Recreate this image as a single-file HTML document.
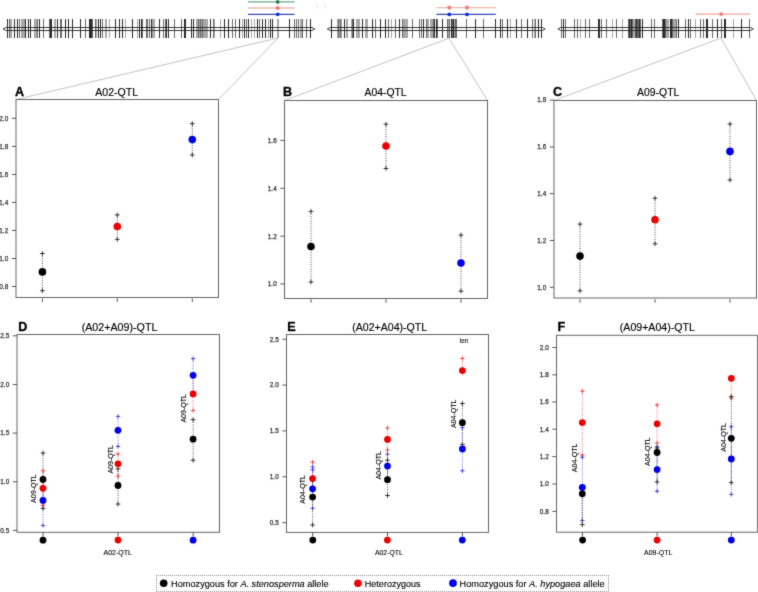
<!DOCTYPE html>
<html><head><meta charset="utf-8"><title>QTL figure</title>
<style>html,body{margin:0;padding:0;background:#fff;}svg{display:block;}body{width:758px;height:592px;overflow:hidden;font-family:"Liberation Sans",sans-serif;}</style>
</head><body>
<svg width="758" height="592" viewBox="0 0 758 592" font-family="Liberation Sans, sans-serif">
<defs><filter id="soft" x="0" y="0" width="100%" height="100%" color-interpolation-filters="sRGB"><feConvolveMatrix order="3" kernelMatrix="0.02 0.08 0.02 0.08 0.6 0.08 0.02 0.08 0.02" edgeMode="none"/></filter></defs>
<rect width="758" height="592" fill="#fff"/>
<g filter="url(#soft)">
<line x1="278" y1="38.0" x2="16.0" y2="99.5" stroke="#b4b4b4" stroke-width="0.8"/>
<line x1="278" y1="38.0" x2="218.5" y2="99.5" stroke="#b4b4b4" stroke-width="0.8"/>
<line x1="449" y1="38.2" x2="284.5" y2="100.5" stroke="#b4b4b4" stroke-width="0.8"/>
<line x1="449" y1="38.2" x2="487.5" y2="100.5" stroke="#b4b4b4" stroke-width="0.8"/>
<line x1="721" y1="38.0" x2="554" y2="100.5" stroke="#b4b4b4" stroke-width="0.8"/>
<line x1="721" y1="38.0" x2="756.5" y2="100.5" stroke="#b4b4b4" stroke-width="0.8"/>
<line x1="248" y1="1.9" x2="294.6" y2="1.9" stroke="#6fa68a" stroke-width="1.3"/>
<circle cx="277.7" cy="1.9" r="1.9" fill="#1f7f48"/>
<line x1="248" y1="8.0" x2="294.6" y2="8.0" stroke="#f2b8b0" stroke-width="1.3"/>
<rect x="275.9" y="6.2" width="3.6" height="3.6" rx="0.8" fill="#ea7f78"/>
<line x1="248" y1="14.3" x2="294.6" y2="14.3" stroke="#3547b8" stroke-width="1.2"/>
<circle cx="277.7" cy="14.3" r="1.9" fill="#1030e0"/>
<line x1="436.4" y1="7.6" x2="495.8" y2="7.6" stroke="#f2b8b0" stroke-width="1.3"/>
<rect x="447.5" y="5.8" width="3.6" height="3.6" rx="0.8" fill="#ea7f78"/>
<rect x="465.2" y="5.8" width="3.6" height="3.6" rx="0.8" fill="#ea7f78"/>
<line x1="436.4" y1="14.4" x2="495.8" y2="14.4" stroke="#3547b8" stroke-width="1.2"/>
<circle cx="449.3" cy="14.4" r="1.9" fill="#1030e0"/>
<circle cx="467" cy="14.4" r="1.9" fill="#1030e0"/>
<line x1="695.4" y1="14.1" x2="750" y2="14.1" stroke="#f0a29c" stroke-width="1.1"/>
<circle cx="721.2" cy="14.1" r="1.9" fill="#ea7f78"/>
<rect x="316.8" y="3.5" width="0.9" height="5" fill="#e2e2e2"/>
<rect x="324.8" y="3.5" width="0.9" height="5" fill="#e2e2e2"/>
<rect x="7" y="19" width="1" height="19" fill="#2a2a2a"/>
<rect x="9" y="19" width="1" height="19" fill="#6a6a6a"/>
<rect x="10" y="19" width="1" height="19" fill="#a8a8a8"/>
<rect x="11" y="19" width="1" height="19" fill="#a8a8a8"/>
<rect x="14" y="19" width="1" height="19" fill="#2a2a2a"/>
<rect x="17" y="19" width="1" height="19" fill="#2a2a2a"/>
<rect x="19" y="19" width="1" height="19" fill="#6a6a6a"/>
<rect x="21" y="19" width="1" height="19" fill="#a8a8a8"/>
<rect x="22" y="19" width="1" height="19" fill="#a8a8a8"/>
<rect x="23" y="19" width="1" height="19" fill="#a8a8a8"/>
<rect x="24" y="19" width="1" height="19" fill="#a8a8a8"/>
<rect x="25" y="19" width="1" height="19" fill="#2a2a2a"/>
<rect x="28" y="19" width="1" height="19" fill="#2a2a2a"/>
<rect x="30" y="19" width="1" height="19" fill="#2a2a2a"/>
<rect x="34" y="19" width="1" height="19" fill="#a8a8a8"/>
<rect x="35" y="19" width="1" height="19" fill="#a8a8a8"/>
<rect x="36" y="19" width="1" height="19" fill="#a8a8a8"/>
<rect x="37" y="19" width="1" height="19" fill="#6a6a6a"/>
<rect x="39" y="19" width="1" height="19" fill="#2a2a2a"/>
<rect x="43" y="19" width="1" height="19" fill="#6a6a6a"/>
<rect x="49" y="19" width="1" height="19" fill="#6a6a6a"/>
<rect x="50" y="19" width="1" height="19" fill="#2a2a2a"/>
<rect x="51" y="19" width="1" height="19" fill="#2a2a2a"/>
<rect x="54" y="19" width="1" height="19" fill="#a8a8a8"/>
<rect x="55" y="19" width="1" height="19" fill="#a8a8a8"/>
<rect x="57" y="19" width="1" height="19" fill="#2a2a2a"/>
<rect x="60" y="19" width="1" height="19" fill="#6a6a6a"/>
<rect x="61" y="19" width="1" height="19" fill="#6a6a6a"/>
<rect x="65" y="19" width="1" height="19" fill="#2a2a2a"/>
<rect x="68" y="19" width="1" height="19" fill="#2a2a2a"/>
<rect x="72" y="19" width="1" height="19" fill="#2a2a2a"/>
<rect x="80" y="19" width="1" height="19" fill="#2a2a2a"/>
<rect x="85" y="19" width="1" height="19" fill="#6a6a6a"/>
<rect x="89" y="19" width="1" height="19" fill="#2a2a2a"/>
<rect x="90" y="19" width="1" height="19" fill="#2a2a2a"/>
<rect x="91" y="19" width="1" height="19" fill="#2a2a2a"/>
<rect x="92" y="19" width="1" height="19" fill="#6a6a6a"/>
<rect x="95" y="19" width="1" height="19" fill="#6a6a6a"/>
<rect x="96" y="19" width="1" height="19" fill="#a8a8a8"/>
<rect x="98" y="19" width="1" height="19" fill="#2a2a2a"/>
<rect x="100" y="19" width="1" height="19" fill="#2a2a2a"/>
<rect x="102" y="19" width="1" height="19" fill="#6a6a6a"/>
<rect x="105" y="19" width="1" height="19" fill="#a8a8a8"/>
<rect x="106" y="19" width="1" height="19" fill="#a8a8a8"/>
<rect x="109" y="19" width="1" height="19" fill="#a8a8a8"/>
<rect x="115" y="19" width="1" height="19" fill="#2a2a2a"/>
<rect x="119" y="19" width="1" height="19" fill="#2a2a2a"/>
<rect x="122" y="19" width="1" height="19" fill="#2a2a2a"/>
<rect x="125" y="19" width="1" height="19" fill="#a8a8a8"/>
<rect x="132" y="19" width="1" height="19" fill="#2a2a2a"/>
<rect x="137" y="19" width="1" height="19" fill="#a8a8a8"/>
<rect x="139" y="19" width="1" height="19" fill="#2a2a2a"/>
<rect x="141" y="19" width="1" height="19" fill="#2a2a2a"/>
<rect x="142" y="19" width="1" height="19" fill="#6a6a6a"/>
<rect x="146" y="19" width="1" height="19" fill="#6a6a6a"/>
<rect x="147" y="19" width="1" height="19" fill="#6a6a6a"/>
<rect x="149" y="19" width="1" height="19" fill="#6a6a6a"/>
<rect x="151" y="19" width="1" height="19" fill="#2a2a2a"/>
<rect x="152" y="19" width="1" height="19" fill="#a8a8a8"/>
<rect x="153" y="19" width="1" height="19" fill="#a8a8a8"/>
<rect x="154" y="19" width="1" height="19" fill="#a8a8a8"/>
<rect x="159" y="19" width="1" height="19" fill="#2a2a2a"/>
<rect x="163" y="19" width="1" height="19" fill="#6a6a6a"/>
<rect x="165" y="19" width="1" height="19" fill="#6a6a6a"/>
<rect x="166" y="19" width="1" height="19" fill="#2a2a2a"/>
<rect x="168" y="19" width="1" height="19" fill="#2a2a2a"/>
<rect x="174" y="19" width="1" height="19" fill="#6a6a6a"/>
<rect x="181" y="19" width="1" height="19" fill="#6a6a6a"/>
<rect x="184" y="19" width="1" height="19" fill="#2a2a2a"/>
<rect x="185" y="19" width="1" height="19" fill="#2a2a2a"/>
<rect x="191" y="19" width="1" height="19" fill="#2a2a2a"/>
<rect x="193" y="19" width="1" height="19" fill="#2a2a2a"/>
<rect x="196" y="19" width="1" height="19" fill="#a8a8a8"/>
<rect x="197" y="19" width="1" height="19" fill="#a8a8a8"/>
<rect x="198" y="19" width="1" height="19" fill="#6a6a6a"/>
<rect x="199" y="19" width="1" height="19" fill="#a8a8a8"/>
<rect x="200" y="19" width="1" height="19" fill="#6a6a6a"/>
<rect x="201" y="19" width="1" height="19" fill="#a8a8a8"/>
<rect x="202" y="19" width="1" height="19" fill="#6a6a6a"/>
<rect x="203" y="19" width="1" height="19" fill="#a8a8a8"/>
<rect x="204" y="19" width="1" height="19" fill="#a8a8a8"/>
<rect x="205" y="19" width="1" height="19" fill="#a8a8a8"/>
<rect x="206" y="19" width="1" height="19" fill="#a8a8a8"/>
<rect x="207" y="19" width="1" height="19" fill="#a8a8a8"/>
<rect x="210" y="19" width="1" height="19" fill="#2a2a2a"/>
<rect x="213" y="19" width="1" height="19" fill="#6a6a6a"/>
<rect x="214" y="19" width="1" height="19" fill="#a8a8a8"/>
<rect x="220" y="19" width="1" height="19" fill="#a8a8a8"/>
<rect x="224" y="19" width="1" height="19" fill="#2a2a2a"/>
<rect x="228" y="19" width="1" height="19" fill="#2a2a2a"/>
<rect x="232" y="19" width="1" height="19" fill="#6a6a6a"/>
<rect x="235" y="19" width="1" height="19" fill="#6a6a6a"/>
<rect x="239" y="19" width="1" height="19" fill="#2a2a2a"/>
<rect x="242" y="19" width="1" height="19" fill="#a8a8a8"/>
<rect x="244" y="19" width="1" height="19" fill="#2a2a2a"/>
<rect x="246" y="19" width="1" height="19" fill="#6a6a6a"/>
<rect x="248" y="19" width="1" height="19" fill="#2a2a2a"/>
<rect x="251" y="19" width="1" height="19" fill="#a8a8a8"/>
<rect x="254" y="19" width="1" height="19" fill="#a8a8a8"/>
<rect x="257" y="19" width="1" height="19" fill="#2a2a2a"/>
<rect x="259" y="19" width="1" height="19" fill="#6a6a6a"/>
<rect x="262" y="19" width="1" height="19" fill="#2a2a2a"/>
<rect x="265" y="19" width="1" height="19" fill="#2a2a2a"/>
<rect x="268" y="19" width="1" height="19" fill="#a8a8a8"/>
<rect x="270" y="19" width="1" height="19" fill="#2a2a2a"/>
<rect x="272" y="19" width="1" height="19" fill="#2a2a2a"/>
<rect x="277" y="19" width="1" height="19" fill="#a8a8a8"/>
<rect x="278" y="19" width="1" height="19" fill="#a8a8a8"/>
<rect x="289" y="19" width="1" height="19" fill="#2a2a2a"/>
<rect x="294" y="19" width="1" height="19" fill="#6a6a6a"/>
<rect x="296" y="19" width="1" height="19" fill="#6a6a6a"/>
<rect x="298" y="19" width="1" height="19" fill="#6a6a6a"/>
<rect x="300" y="19" width="1" height="19" fill="#a8a8a8"/>
<rect x="301" y="19" width="1" height="19" fill="#a8a8a8"/>
<rect x="302" y="19" width="1" height="19" fill="#6a6a6a"/>
<rect x="306" y="19" width="1" height="19" fill="#6a6a6a"/>
<rect x="310" y="19" width="1" height="19" fill="#2a2a2a"/>
<path d="M5.70,27.5 L312.10,27.5 L314.50,29.00 L312.10,30.5 L5.70,30.5 L3.30,29.00 Z" fill="none" stroke="#222" stroke-width="0.9" stroke-linejoin="round"/>
<circle cx="3.70" cy="29.00" r="0.9" fill="#666"/>
<circle cx="314.10" cy="29.00" r="0.9" fill="#666"/>
<rect x="331" y="19" width="1" height="19" fill="#2a2a2a"/>
<rect x="337" y="19" width="1" height="19" fill="#a8a8a8"/>
<rect x="338" y="19" width="1" height="19" fill="#6a6a6a"/>
<rect x="339" y="19" width="1" height="19" fill="#a8a8a8"/>
<rect x="340" y="19" width="1" height="19" fill="#6a6a6a"/>
<rect x="341" y="19" width="1" height="19" fill="#a8a8a8"/>
<rect x="344" y="19" width="1" height="19" fill="#2a2a2a"/>
<rect x="346" y="19" width="1" height="19" fill="#a8a8a8"/>
<rect x="347" y="19" width="1" height="19" fill="#a8a8a8"/>
<rect x="351" y="19" width="1" height="19" fill="#a8a8a8"/>
<rect x="352" y="19" width="1" height="19" fill="#6a6a6a"/>
<rect x="353" y="19" width="1" height="19" fill="#2a2a2a"/>
<rect x="356" y="19" width="1" height="19" fill="#a8a8a8"/>
<rect x="357" y="19" width="1" height="19" fill="#a8a8a8"/>
<rect x="358" y="19" width="1" height="19" fill="#a8a8a8"/>
<rect x="359" y="19" width="1" height="19" fill="#a8a8a8"/>
<rect x="362" y="19" width="1" height="19" fill="#2a2a2a"/>
<rect x="365" y="19" width="1" height="19" fill="#a8a8a8"/>
<rect x="366" y="19" width="1" height="19" fill="#a8a8a8"/>
<rect x="367" y="19" width="1" height="19" fill="#a8a8a8"/>
<rect x="372" y="19" width="1" height="19" fill="#2a2a2a"/>
<rect x="375" y="19" width="1" height="19" fill="#6a6a6a"/>
<rect x="380" y="19" width="1" height="19" fill="#2a2a2a"/>
<rect x="385" y="19" width="1" height="19" fill="#2a2a2a"/>
<rect x="388" y="19" width="1" height="19" fill="#6a6a6a"/>
<rect x="391" y="19" width="1" height="19" fill="#a8a8a8"/>
<rect x="395" y="19" width="1" height="19" fill="#6a6a6a"/>
<rect x="399" y="19" width="1" height="19" fill="#2a2a2a"/>
<rect x="402" y="19" width="1" height="19" fill="#6a6a6a"/>
<rect x="403" y="19" width="1" height="19" fill="#a8a8a8"/>
<rect x="404" y="19" width="1" height="19" fill="#a8a8a8"/>
<rect x="405" y="19" width="1" height="19" fill="#a8a8a8"/>
<rect x="406" y="19" width="1" height="19" fill="#a8a8a8"/>
<rect x="407" y="19" width="1" height="19" fill="#a8a8a8"/>
<rect x="412" y="19" width="1" height="19" fill="#6a6a6a"/>
<rect x="419" y="19" width="1" height="19" fill="#6a6a6a"/>
<rect x="421" y="19" width="1" height="19" fill="#6a6a6a"/>
<rect x="423" y="19" width="1" height="19" fill="#2a2a2a"/>
<rect x="426" y="19" width="1" height="19" fill="#6a6a6a"/>
<rect x="427" y="19" width="1" height="19" fill="#a8a8a8"/>
<rect x="428" y="19" width="1" height="19" fill="#a8a8a8"/>
<rect x="430" y="19" width="1" height="19" fill="#a8a8a8"/>
<rect x="431" y="19" width="1" height="19" fill="#a8a8a8"/>
<rect x="432" y="19" width="1" height="19" fill="#a8a8a8"/>
<rect x="433" y="19" width="1" height="19" fill="#6a6a6a"/>
<rect x="434" y="19" width="1" height="19" fill="#2a2a2a"/>
<rect x="436" y="19" width="1" height="19" fill="#2a2a2a"/>
<rect x="437" y="19" width="1" height="19" fill="#6a6a6a"/>
<rect x="442" y="19" width="1" height="19" fill="#2a2a2a"/>
<rect x="447" y="19" width="1" height="19" fill="#6a6a6a"/>
<rect x="448" y="19" width="1" height="19" fill="#a8a8a8"/>
<rect x="449" y="19" width="1" height="19" fill="#6a6a6a"/>
<rect x="451" y="19" width="1" height="19" fill="#2a2a2a"/>
<rect x="452" y="19" width="1" height="19" fill="#6a6a6a"/>
<rect x="453" y="19" width="1" height="19" fill="#2a2a2a"/>
<rect x="454" y="19" width="1" height="19" fill="#a8a8a8"/>
<rect x="455" y="19" width="1" height="19" fill="#6a6a6a"/>
<rect x="456" y="19" width="1" height="19" fill="#6a6a6a"/>
<rect x="466" y="19" width="1" height="19" fill="#6a6a6a"/>
<rect x="475" y="19" width="1" height="19" fill="#2a2a2a"/>
<rect x="483" y="19" width="1" height="19" fill="#6a6a6a"/>
<rect x="495" y="19" width="1" height="19" fill="#2a2a2a"/>
<rect x="500" y="19" width="1" height="19" fill="#2a2a2a"/>
<rect x="502" y="19" width="1" height="19" fill="#6a6a6a"/>
<rect x="507" y="19" width="1" height="19" fill="#2a2a2a"/>
<rect x="510" y="19" width="1" height="19" fill="#a8a8a8"/>
<rect x="516" y="19" width="1" height="19" fill="#2a2a2a"/>
<rect x="521" y="19" width="1" height="19" fill="#6a6a6a"/>
<rect x="527" y="19" width="1" height="19" fill="#2a2a2a"/>
<rect x="532" y="19" width="1" height="19" fill="#6a6a6a"/>
<rect x="534" y="19" width="1" height="19" fill="#a8a8a8"/>
<rect x="535" y="19" width="1" height="19" fill="#6a6a6a"/>
<rect x="538" y="19" width="1" height="19" fill="#2a2a2a"/>
<rect x="541" y="19" width="1" height="19" fill="#2a2a2a"/>
<path d="M330.10,27.5 L542.60,27.5 L545.00,29.00 L542.60,30.5 L330.10,30.5 L327.70,29.00 Z" fill="none" stroke="#222" stroke-width="0.9" stroke-linejoin="round"/>
<circle cx="328.10" cy="29.00" r="0.9" fill="#666"/>
<circle cx="544.60" cy="29.00" r="0.9" fill="#666"/>
<rect x="561" y="19" width="1" height="19" fill="#6a6a6a"/>
<rect x="563" y="19" width="1" height="19" fill="#2a2a2a"/>
<rect x="565" y="19" width="1" height="19" fill="#6a6a6a"/>
<rect x="574" y="19" width="1" height="19" fill="#6a6a6a"/>
<rect x="577" y="19" width="1" height="19" fill="#6a6a6a"/>
<rect x="580" y="19" width="1" height="19" fill="#a8a8a8"/>
<rect x="585" y="19" width="1" height="19" fill="#6a6a6a"/>
<rect x="589" y="19" width="1" height="19" fill="#6a6a6a"/>
<rect x="598" y="19" width="1" height="19" fill="#2a2a2a"/>
<rect x="599" y="19" width="1" height="19" fill="#2a2a2a"/>
<rect x="601" y="19" width="1" height="19" fill="#6a6a6a"/>
<rect x="606" y="19" width="1" height="19" fill="#6a6a6a"/>
<rect x="612" y="19" width="1" height="19" fill="#a8a8a8"/>
<rect x="616" y="19" width="1" height="19" fill="#6a6a6a"/>
<rect x="622" y="19" width="1" height="19" fill="#a8a8a8"/>
<rect x="628" y="19" width="1" height="19" fill="#6a6a6a"/>
<rect x="629" y="19" width="1" height="19" fill="#2a2a2a"/>
<rect x="630" y="19" width="1" height="19" fill="#6a6a6a"/>
<rect x="631" y="19" width="1" height="19" fill="#2a2a2a"/>
<rect x="632" y="19" width="1" height="19" fill="#6a6a6a"/>
<rect x="633" y="19" width="1" height="19" fill="#a8a8a8"/>
<rect x="634" y="19" width="1" height="19" fill="#a8a8a8"/>
<rect x="635" y="19" width="1" height="19" fill="#6a6a6a"/>
<rect x="636" y="19" width="1" height="19" fill="#2a2a2a"/>
<rect x="637" y="19" width="1" height="19" fill="#6a6a6a"/>
<rect x="638" y="19" width="1" height="19" fill="#6a6a6a"/>
<rect x="639" y="19" width="1" height="19" fill="#2a2a2a"/>
<rect x="640" y="19" width="1" height="19" fill="#6a6a6a"/>
<rect x="642" y="19" width="1" height="19" fill="#2a2a2a"/>
<rect x="651" y="19" width="1" height="19" fill="#6a6a6a"/>
<rect x="654" y="19" width="1" height="19" fill="#6a6a6a"/>
<rect x="662" y="19" width="1" height="19" fill="#6a6a6a"/>
<rect x="663" y="19" width="1" height="19" fill="#2a2a2a"/>
<rect x="664" y="19" width="1" height="19" fill="#2a2a2a"/>
<rect x="665" y="19" width="1" height="19" fill="#6a6a6a"/>
<rect x="666" y="19" width="1" height="19" fill="#a8a8a8"/>
<rect x="667" y="19" width="1" height="19" fill="#a8a8a8"/>
<rect x="668" y="19" width="1" height="19" fill="#a8a8a8"/>
<rect x="670" y="19" width="1" height="19" fill="#2a2a2a"/>
<rect x="671" y="19" width="1" height="19" fill="#2a2a2a"/>
<rect x="672" y="19" width="1" height="19" fill="#6a6a6a"/>
<rect x="673" y="19" width="1" height="19" fill="#a8a8a8"/>
<rect x="674" y="19" width="1" height="19" fill="#a8a8a8"/>
<rect x="675" y="19" width="1" height="19" fill="#a8a8a8"/>
<rect x="676" y="19" width="1" height="19" fill="#6a6a6a"/>
<rect x="678" y="19" width="1" height="19" fill="#2a2a2a"/>
<rect x="685" y="19" width="1" height="19" fill="#6a6a6a"/>
<rect x="688" y="19" width="1" height="19" fill="#2a2a2a"/>
<rect x="690" y="19" width="1" height="19" fill="#6a6a6a"/>
<rect x="695" y="19" width="1" height="19" fill="#a8a8a8"/>
<rect x="700" y="19" width="1" height="19" fill="#6a6a6a"/>
<rect x="703" y="19" width="1" height="19" fill="#6a6a6a"/>
<rect x="706" y="19" width="1" height="19" fill="#2a2a2a"/>
<rect x="707" y="19" width="1" height="19" fill="#2a2a2a"/>
<rect x="712" y="19" width="1" height="19" fill="#6a6a6a"/>
<rect x="717" y="19" width="1" height="19" fill="#2a2a2a"/>
<rect x="721" y="19" width="1" height="19" fill="#6a6a6a"/>
<rect x="724" y="19" width="1" height="19" fill="#2a2a2a"/>
<rect x="725" y="19" width="1" height="19" fill="#2a2a2a"/>
<rect x="733" y="19" width="1" height="19" fill="#a8a8a8"/>
<rect x="741" y="19" width="1" height="19" fill="#2a2a2a"/>
<rect x="749" y="19" width="1" height="19" fill="#6a6a6a"/>
<path d="M560.60,27.5 L750.70,27.5 L753.10,29.00 L750.70,30.5 L560.60,30.5 L558.20,29.00 Z" fill="none" stroke="#222" stroke-width="0.9" stroke-linejoin="round"/>
<circle cx="558.60" cy="29.00" r="0.9" fill="#666"/>
<circle cx="752.70" cy="29.00" r="0.9" fill="#666"/>
<text x="15.0" y="95.8" font-size="12.6" font-weight="bold" fill="#000" stroke="#000" stroke-width="0.35">A</text>
<text x="95.3" y="96.1" font-size="10.6" textLength="42.8" lengthAdjust="spacingAndGlyphs" fill="#000" stroke="#000" stroke-width="0.15">A02-QTL</text>
<rect x="16.0" y="99.5" width="202.5" height="198.0" fill="none" stroke="#666" stroke-width="1"/>
<line x1="11.8" y1="118.3" x2="16.0" y2="118.3" stroke="#444" stroke-width="0.9"/>
<text x="8.2" y="120.6" font-size="6.4" text-anchor="end" fill="#333" stroke="#333" stroke-width="0.25">2.0</text>
<line x1="11.8" y1="146.4" x2="16.0" y2="146.4" stroke="#444" stroke-width="0.9"/>
<text x="8.2" y="148.70000000000002" font-size="6.4" text-anchor="end" fill="#333" stroke="#333" stroke-width="0.25">1.8</text>
<line x1="11.8" y1="174.4" x2="16.0" y2="174.4" stroke="#444" stroke-width="0.9"/>
<text x="8.2" y="176.70000000000002" font-size="6.4" text-anchor="end" fill="#333" stroke="#333" stroke-width="0.25">1.6</text>
<line x1="11.8" y1="202.4" x2="16.0" y2="202.4" stroke="#444" stroke-width="0.9"/>
<text x="8.2" y="204.70000000000002" font-size="6.4" text-anchor="end" fill="#333" stroke="#333" stroke-width="0.25">1.4</text>
<line x1="11.8" y1="230.4" x2="16.0" y2="230.4" stroke="#444" stroke-width="0.9"/>
<text x="8.2" y="232.70000000000002" font-size="6.4" text-anchor="end" fill="#333" stroke="#333" stroke-width="0.25">1.2</text>
<line x1="11.8" y1="258.5" x2="16.0" y2="258.5" stroke="#444" stroke-width="0.9"/>
<text x="8.2" y="260.8" font-size="6.4" text-anchor="end" fill="#333" stroke="#333" stroke-width="0.25">1.0</text>
<line x1="11.8" y1="286.5" x2="16.0" y2="286.5" stroke="#444" stroke-width="0.9"/>
<text x="8.2" y="288.8" font-size="6.4" text-anchor="end" fill="#333" stroke="#333" stroke-width="0.25">0.8</text>
<line x1="42.4" y1="298.5" x2="42.4" y2="302" stroke="#444" stroke-width="0.9"/>
<line x1="117.3" y1="298.5" x2="117.3" y2="302" stroke="#444" stroke-width="0.9"/>
<line x1="192.3" y1="298.5" x2="192.3" y2="302" stroke="#444" stroke-width="0.9"/>
<line x1="42.4" y1="253.5" x2="42.4" y2="290.7" stroke="#111" stroke-width="0.8" stroke-dasharray="0.9,1.5"/>
<path d="M40.0,253.5H44.8M42.4,251.1V255.9" stroke="#111" stroke-width="0.8" fill="none"/>
<path d="M40.0,290.7H44.8M42.4,288.3V293.09999999999997" stroke="#111" stroke-width="0.8" fill="none"/>
<line x1="117.3" y1="214.9" x2="117.3" y2="239.4" stroke="#111" stroke-width="0.8" stroke-dasharray="0.9,1.5"/>
<path d="M114.89999999999999,214.9H119.7M117.3,212.5V217.3" stroke="#111" stroke-width="0.8" fill="none"/>
<path d="M114.89999999999999,239.4H119.7M117.3,237.0V241.8" stroke="#111" stroke-width="0.8" fill="none"/>
<line x1="192.3" y1="123.6" x2="192.3" y2="155.0" stroke="#111" stroke-width="0.8" stroke-dasharray="0.9,1.5"/>
<path d="M189.9,123.6H194.70000000000002M192.3,121.19999999999999V126.0" stroke="#111" stroke-width="0.8" fill="none"/>
<path d="M189.9,155.0H194.70000000000002M192.3,152.6V157.4" stroke="#111" stroke-width="0.8" fill="none"/>
<circle cx="42.4" cy="271.9" r="3.8" fill="#000"/>
<circle cx="117.3" cy="226.6" r="3.8" fill="#ee0000"/>
<circle cx="192.3" cy="139.6" r="3.8" fill="#0000ee"/>
<text x="283.0" y="95.8" font-size="12.6" font-weight="bold" fill="#000" stroke="#000" stroke-width="0.35">B</text>
<text x="364.5" y="96.2" font-size="10.6" textLength="42.1" lengthAdjust="spacingAndGlyphs" fill="#000" stroke="#000" stroke-width="0.15">A04-QTL</text>
<rect x="284.5" y="100.5" width="203.0" height="198.0" fill="none" stroke="#666" stroke-width="1"/>
<line x1="280.3" y1="140.4" x2="284.5" y2="140.4" stroke="#444" stroke-width="0.9"/>
<text x="276.7" y="142.70000000000002" font-size="6.4" text-anchor="end" fill="#333" stroke="#333" stroke-width="0.25">1.6</text>
<line x1="280.3" y1="188.3" x2="284.5" y2="188.3" stroke="#444" stroke-width="0.9"/>
<text x="276.7" y="190.60000000000002" font-size="6.4" text-anchor="end" fill="#333" stroke="#333" stroke-width="0.25">1.4</text>
<line x1="280.3" y1="236.2" x2="284.5" y2="236.2" stroke="#444" stroke-width="0.9"/>
<text x="276.7" y="238.5" font-size="6.4" text-anchor="end" fill="#333" stroke="#333" stroke-width="0.25">1.2</text>
<line x1="280.3" y1="283.9" x2="284.5" y2="283.9" stroke="#444" stroke-width="0.9"/>
<text x="276.7" y="286.2" font-size="6.4" text-anchor="end" fill="#333" stroke="#333" stroke-width="0.25">1.0</text>
<line x1="311" y1="299.2" x2="311" y2="302.7" stroke="#444" stroke-width="0.9"/>
<line x1="386" y1="299.2" x2="386" y2="302.7" stroke="#444" stroke-width="0.9"/>
<line x1="461" y1="299.2" x2="461" y2="302.7" stroke="#444" stroke-width="0.9"/>
<line x1="311" y1="211.4" x2="311" y2="282" stroke="#111" stroke-width="0.8" stroke-dasharray="0.9,1.5"/>
<path d="M308.6,211.4H313.4M311,209.0V213.8" stroke="#111" stroke-width="0.8" fill="none"/>
<path d="M308.6,282H313.4M311,279.6V284.4" stroke="#111" stroke-width="0.8" fill="none"/>
<line x1="386" y1="124.2" x2="386" y2="168.5" stroke="#111" stroke-width="0.8" stroke-dasharray="0.9,1.5"/>
<path d="M383.6,124.2H388.4M386,121.8V126.60000000000001" stroke="#111" stroke-width="0.8" fill="none"/>
<path d="M383.6,168.5H388.4M386,166.1V170.9" stroke="#111" stroke-width="0.8" fill="none"/>
<line x1="461" y1="235" x2="461" y2="291.2" stroke="#111" stroke-width="0.8" stroke-dasharray="0.9,1.5"/>
<path d="M458.6,235H463.4M461,232.6V237.4" stroke="#111" stroke-width="0.8" fill="none"/>
<path d="M458.6,291.2H463.4M461,288.8V293.59999999999997" stroke="#111" stroke-width="0.8" fill="none"/>
<circle cx="311" cy="246.5" r="3.8" fill="#000"/>
<circle cx="386" cy="146" r="3.8" fill="#ee0000"/>
<circle cx="461" cy="263" r="3.8" fill="#0000ee"/>
<text x="553.0" y="95.8" font-size="12.6" font-weight="bold" fill="#000" stroke="#000" stroke-width="0.35">C</text>
<text x="637.1" y="96.2" font-size="10.6" textLength="42.2" lengthAdjust="spacingAndGlyphs" fill="#000" stroke="#000" stroke-width="0.15">A09-QTL</text>
<rect x="554.0" y="100.5" width="202.5" height="197.5" fill="none" stroke="#666" stroke-width="1"/>
<line x1="549.8" y1="100.1" x2="554" y2="100.1" stroke="#444" stroke-width="0.9"/>
<text x="546.2" y="102.39999999999999" font-size="6.4" text-anchor="end" fill="#333" stroke="#333" stroke-width="0.25">1.8</text>
<line x1="549.8" y1="147.0" x2="554" y2="147.0" stroke="#444" stroke-width="0.9"/>
<text x="546.2" y="149.3" font-size="6.4" text-anchor="end" fill="#333" stroke="#333" stroke-width="0.25">1.6</text>
<line x1="549.8" y1="193.6" x2="554" y2="193.6" stroke="#444" stroke-width="0.9"/>
<text x="546.2" y="195.9" font-size="6.4" text-anchor="end" fill="#333" stroke="#333" stroke-width="0.25">1.4</text>
<line x1="549.8" y1="240.5" x2="554" y2="240.5" stroke="#444" stroke-width="0.9"/>
<text x="546.2" y="242.8" font-size="6.4" text-anchor="end" fill="#333" stroke="#333" stroke-width="0.25">1.2</text>
<line x1="549.8" y1="287.4" x2="554" y2="287.4" stroke="#444" stroke-width="0.9"/>
<text x="546.2" y="289.7" font-size="6.4" text-anchor="end" fill="#333" stroke="#333" stroke-width="0.25">1.0</text>
<line x1="580" y1="299.2" x2="580" y2="302.7" stroke="#444" stroke-width="0.9"/>
<line x1="655" y1="299.2" x2="655" y2="302.7" stroke="#444" stroke-width="0.9"/>
<line x1="730" y1="299.2" x2="730" y2="302.7" stroke="#444" stroke-width="0.9"/>
<line x1="580" y1="224.1" x2="580" y2="290.8" stroke="#111" stroke-width="0.8" stroke-dasharray="0.9,1.5"/>
<path d="M577.6,224.1H582.4M580,221.7V226.5" stroke="#111" stroke-width="0.8" fill="none"/>
<path d="M577.6,290.8H582.4M580,288.40000000000003V293.2" stroke="#111" stroke-width="0.8" fill="none"/>
<line x1="655" y1="198.2" x2="655" y2="243.8" stroke="#111" stroke-width="0.8" stroke-dasharray="0.9,1.5"/>
<path d="M652.6,198.2H657.4M655,195.79999999999998V200.6" stroke="#111" stroke-width="0.8" fill="none"/>
<path d="M652.6,243.8H657.4M655,241.4V246.20000000000002" stroke="#111" stroke-width="0.8" fill="none"/>
<line x1="730" y1="124" x2="730" y2="180" stroke="#111" stroke-width="0.8" stroke-dasharray="0.9,1.5"/>
<path d="M727.6,124H732.4M730,121.6V126.4" stroke="#111" stroke-width="0.8" fill="none"/>
<path d="M727.6,180H732.4M730,177.6V182.4" stroke="#111" stroke-width="0.8" fill="none"/>
<circle cx="580" cy="256.1" r="3.8" fill="#000"/>
<circle cx="655" cy="219.8" r="3.8" fill="#ee0000"/>
<circle cx="730" cy="151.4" r="3.8" fill="#0000ee"/>
<text x="18.200000000000003" y="330.9" font-size="12.6" font-weight="bold" fill="#000" stroke="#000" stroke-width="0.35">D</text>
<text x="81.7" y="331.3" font-size="10.6" textLength="75.7" lengthAdjust="spacingAndGlyphs" fill="#000" stroke="#000" stroke-width="0.15">(A02+A09)-QTL</text>
<rect x="17.0" y="334.5" width="202.5" height="197.79999999999995" fill="none" stroke="#666" stroke-width="1"/>
<line x1="12.8" y1="335.8" x2="17.0" y2="335.8" stroke="#444" stroke-width="0.9"/>
<text x="9.2" y="338.1" font-size="6.4" text-anchor="end" fill="#333" stroke="#333" stroke-width="0.25">2.5</text>
<line x1="12.8" y1="384.5" x2="17.0" y2="384.5" stroke="#444" stroke-width="0.9"/>
<text x="9.2" y="386.8" font-size="6.4" text-anchor="end" fill="#333" stroke="#333" stroke-width="0.25">2.0</text>
<line x1="12.8" y1="433.1" x2="17.0" y2="433.1" stroke="#444" stroke-width="0.9"/>
<text x="9.2" y="435.40000000000003" font-size="6.4" text-anchor="end" fill="#333" stroke="#333" stroke-width="0.25">1.5</text>
<line x1="12.8" y1="481.8" x2="17.0" y2="481.8" stroke="#444" stroke-width="0.9"/>
<text x="9.2" y="484.1" font-size="6.4" text-anchor="end" fill="#333" stroke="#333" stroke-width="0.25">1.0</text>
<line x1="12.8" y1="530.4" x2="17.0" y2="530.4" stroke="#444" stroke-width="0.9"/>
<text x="9.2" y="532.6999999999999" font-size="6.4" text-anchor="end" fill="#333" stroke="#333" stroke-width="0.25">0.5</text>
<line x1="43" y1="532.2" x2="43" y2="536.5" stroke="#444" stroke-width="0.9"/>
<line x1="118" y1="532.2" x2="118" y2="536.5" stroke="#444" stroke-width="0.9"/>
<line x1="193.1" y1="532.2" x2="193.1" y2="536.5" stroke="#444" stroke-width="0.9"/>
<line x1="43" y1="453" x2="43" y2="508.4" stroke="#111" stroke-width="0.8" stroke-dasharray="0.9,1.5"/>
<path d="M40.6,453H45.4M43,450.6V455.4" stroke="#111" stroke-width="0.8" fill="none"/>
<path d="M40.6,508.4H45.4M43,506.0V510.79999999999995" stroke="#111" stroke-width="0.8" fill="none"/>
<line x1="43" y1="470.7" x2="43" y2="505.4" stroke="#e33" stroke-width="0.8" stroke-dasharray="0.9,1.5"/>
<path d="M40.8,470.7H45.2M43,468.5V472.9" stroke="#e33" stroke-width="0.85" fill="none"/>
<path d="M40.8,505.4H45.2M43,503.2V507.59999999999997" stroke="#e33" stroke-width="0.85" fill="none"/>
<line x1="43" y1="478" x2="43" y2="525.5" stroke="#33d" stroke-width="0.8" stroke-dasharray="0.9,1.5"/>
<path d="M40.8,478H45.2M43,475.8V480.2" stroke="#33d" stroke-width="0.85" fill="none"/>
<path d="M40.8,525.5H45.2M43,523.3V527.7" stroke="#33d" stroke-width="0.85" fill="none"/>
<line x1="118" y1="468.8" x2="118" y2="504.1" stroke="#111" stroke-width="0.8" stroke-dasharray="0.9,1.5"/>
<path d="M115.6,468.8H120.4M118,466.40000000000003V471.2" stroke="#111" stroke-width="0.8" fill="none"/>
<path d="M115.6,504.1H120.4M118,501.70000000000005V506.5" stroke="#111" stroke-width="0.8" fill="none"/>
<line x1="118" y1="453.9" x2="118" y2="476.2" stroke="#e33" stroke-width="0.8" stroke-dasharray="0.9,1.5"/>
<path d="M115.8,453.9H120.2M118,451.7V456.09999999999997" stroke="#e33" stroke-width="0.85" fill="none"/>
<path d="M115.8,476.2H120.2M118,474.0V478.4" stroke="#e33" stroke-width="0.85" fill="none"/>
<line x1="118" y1="416.4" x2="118" y2="446.5" stroke="#33d" stroke-width="0.8" stroke-dasharray="0.9,1.5"/>
<path d="M115.8,416.4H120.2M118,414.2V418.59999999999997" stroke="#33d" stroke-width="0.85" fill="none"/>
<path d="M115.8,446.5H120.2M118,444.3V448.7" stroke="#33d" stroke-width="0.85" fill="none"/>
<line x1="193.1" y1="419.6" x2="193.1" y2="460.3" stroke="#111" stroke-width="0.8" stroke-dasharray="0.9,1.5"/>
<path d="M190.7,419.6H195.5M193.1,417.20000000000005V422.0" stroke="#111" stroke-width="0.8" fill="none"/>
<path d="M190.7,460.3H195.5M193.1,457.90000000000003V462.7" stroke="#111" stroke-width="0.8" fill="none"/>
<line x1="193.1" y1="376" x2="193.1" y2="410.6" stroke="#e33" stroke-width="0.8" stroke-dasharray="0.9,1.5"/>
<path d="M190.9,376H195.29999999999998M193.1,373.8V378.2" stroke="#e33" stroke-width="0.85" fill="none"/>
<path d="M190.9,410.6H195.29999999999998M193.1,408.40000000000003V412.8" stroke="#e33" stroke-width="0.85" fill="none"/>
<line x1="193.1" y1="358.6" x2="193.1" y2="393.5" stroke="#33d" stroke-width="0.8" stroke-dasharray="0.9,1.5"/>
<path d="M190.9,358.6H195.29999999999998M193.1,356.40000000000003V360.8" stroke="#33d" stroke-width="0.85" fill="none"/>
<path d="M190.9,393.5H195.29999999999998M193.1,391.3V395.7" stroke="#33d" stroke-width="0.85" fill="none"/>
<circle cx="43" cy="479.4" r="3.4" fill="#000"/>
<circle cx="43" cy="488.3" r="3.4" fill="#ee0000"/>
<circle cx="43" cy="500.4" r="3.4" fill="#0000ee"/>
<circle cx="118" cy="430.3" r="3.4" fill="#0000ee"/>
<circle cx="118" cy="463.8" r="3.4" fill="#ee0000"/>
<circle cx="118" cy="485.5" r="3.4" fill="#000"/>
<circle cx="193.1" cy="375.3" r="3.4" fill="#0000ee"/>
<circle cx="193.1" cy="393.9" r="3.4" fill="#ee0000"/>
<circle cx="193.1" cy="439.2" r="3.4" fill="#000"/>
<circle cx="43" cy="540.2" r="3.4" fill="#000"/>
<circle cx="118" cy="540.1" r="3.4" fill="#ee0000"/>
<circle cx="193.1" cy="540.2" r="3.4" fill="#0000ee"/>
<text x="0" y="0" font-size="8.0" text-anchor="middle" textLength="28.6" lengthAdjust="spacingAndGlyphs" fill="#000" stroke="#000" stroke-width="0.12" transform="translate(36.28,488.6) rotate(-90)">A09-QTL</text>
<text x="0" y="0" font-size="8.0" text-anchor="middle" textLength="28.6" lengthAdjust="spacingAndGlyphs" fill="#000" stroke="#000" stroke-width="0.12" transform="translate(112.88,459.3) rotate(-90)">A09-QTL</text>
<text x="0" y="0" font-size="8.0" text-anchor="middle" textLength="28.6" lengthAdjust="spacingAndGlyphs" fill="#000" stroke="#000" stroke-width="0.12" transform="translate(186.08,408.3) rotate(-90)">A09-QTL</text>
<text x="103.5" y="554.8" font-size="7.6" textLength="28.5" lengthAdjust="spacingAndGlyphs" fill="#000" stroke="#000" stroke-width="0.12">A02-QTL</text>
<text x="287.20000000000005" y="330.9" font-size="12.6" font-weight="bold" fill="#000" stroke="#000" stroke-width="0.35">E</text>
<text x="352.3" y="331.4" font-size="10.6" textLength="74.8" lengthAdjust="spacingAndGlyphs" fill="#000" stroke="#000" stroke-width="0.15">(A02+A04)-QTL</text>
<rect x="286.5" y="334.5" width="202.0" height="197.89999999999998" fill="none" stroke="#666" stroke-width="1"/>
<line x1="282.3" y1="339.2" x2="286.5" y2="339.2" stroke="#444" stroke-width="0.9"/>
<text x="278.7" y="341.5" font-size="6.4" text-anchor="end" fill="#333" stroke="#333" stroke-width="0.25">2.5</text>
<line x1="282.3" y1="385.1" x2="286.5" y2="385.1" stroke="#444" stroke-width="0.9"/>
<text x="278.7" y="387.40000000000003" font-size="6.4" text-anchor="end" fill="#333" stroke="#333" stroke-width="0.25">2.0</text>
<line x1="282.3" y1="430.9" x2="286.5" y2="430.9" stroke="#444" stroke-width="0.9"/>
<text x="278.7" y="433.2" font-size="6.4" text-anchor="end" fill="#333" stroke="#333" stroke-width="0.25">1.5</text>
<line x1="282.3" y1="476.8" x2="286.5" y2="476.8" stroke="#444" stroke-width="0.9"/>
<text x="278.7" y="479.1" font-size="6.4" text-anchor="end" fill="#333" stroke="#333" stroke-width="0.25">1.0</text>
<line x1="282.3" y1="522.7" x2="286.5" y2="522.7" stroke="#444" stroke-width="0.9"/>
<text x="278.7" y="525.0" font-size="6.4" text-anchor="end" fill="#333" stroke="#333" stroke-width="0.25">0.5</text>
<line x1="312.7" y1="532.2" x2="312.7" y2="536.5" stroke="#444" stroke-width="0.9"/>
<line x1="387.5" y1="532.2" x2="387.5" y2="536.5" stroke="#444" stroke-width="0.9"/>
<line x1="462.4" y1="532.2" x2="462.4" y2="536.5" stroke="#444" stroke-width="0.9"/>
<line x1="462.4" y1="370" x2="462.4" y2="376" stroke="#e33" stroke-width="0.8" stroke-dasharray="0.9,1.5"/>
<line x1="312.6" y1="462.2" x2="312.6" y2="490" stroke="#e33" stroke-width="0.8" stroke-dasharray="0.9,1.5"/>
<path d="M310.40000000000003,462.2H314.8M312.6,460.0V464.4" stroke="#e33" stroke-width="0.85" fill="none"/>
<path d="M310.40000000000003,490H314.8M312.6,487.8V492.2" stroke="#e33" stroke-width="0.85" fill="none"/>
<line x1="312.6" y1="469.8" x2="312.6" y2="508.3" stroke="#33d" stroke-width="0.8" stroke-dasharray="0.9,1.5"/>
<path d="M310.40000000000003,469.8H314.8M312.6,467.6V472.0" stroke="#33d" stroke-width="0.85" fill="none"/>
<path d="M310.40000000000003,508.3H314.8M312.6,506.1V510.5" stroke="#33d" stroke-width="0.85" fill="none"/>
<line x1="312.6" y1="467" x2="312.6" y2="488" stroke="#33d" stroke-width="0.8" stroke-dasharray="0.9,1.5"/>
<path d="M310.40000000000003,467H314.8M312.6,464.8V469.2" stroke="#33d" stroke-width="0.85" fill="none"/>
<line x1="312.6" y1="480" x2="312.6" y2="525" stroke="#111" stroke-width="0.8" stroke-dasharray="0.9,1.5"/>
<path d="M310.20000000000005,480H315.0M312.6,477.6V482.4" stroke="#111" stroke-width="0.8" fill="none"/>
<path d="M310.20000000000005,525H315.0M312.6,522.6V527.4" stroke="#111" stroke-width="0.8" fill="none"/>
<line x1="387.5" y1="428" x2="387.5" y2="450" stroke="#e33" stroke-width="0.8" stroke-dasharray="0.9,1.5"/>
<path d="M385.3,428H389.7M387.5,425.8V430.2" stroke="#e33" stroke-width="0.85" fill="none"/>
<path d="M385.3,450H389.7M387.5,447.8V452.2" stroke="#e33" stroke-width="0.85" fill="none"/>
<line x1="387.5" y1="454.2" x2="387.5" y2="478" stroke="#33d" stroke-width="0.8" stroke-dasharray="0.9,1.5"/>
<path d="M385.3,454.2H389.7M387.5,452.0V456.4" stroke="#33d" stroke-width="0.85" fill="none"/>
<path d="M385.3,478H389.7M387.5,475.8V480.2" stroke="#33d" stroke-width="0.85" fill="none"/>
<line x1="387.5" y1="460.2" x2="387.5" y2="495.5" stroke="#111" stroke-width="0.8" stroke-dasharray="0.9,1.5"/>
<path d="M385.1,460.2H389.9M387.5,457.8V462.59999999999997" stroke="#111" stroke-width="0.8" fill="none"/>
<path d="M385.1,495.5H389.9M387.5,493.1V497.9" stroke="#111" stroke-width="0.8" fill="none"/>
<line x1="462.4" y1="358.4" x2="462.4" y2="370.7" stroke="#e33" stroke-width="0.8" stroke-dasharray="0.9,1.5"/>
<path d="M460.2,358.4H464.59999999999997M462.4,356.2V360.59999999999997" stroke="#e33" stroke-width="0.85" fill="none"/>
<line x1="462.4" y1="403.5" x2="462.4" y2="444.4" stroke="#111" stroke-width="0.8" stroke-dasharray="0.9,1.5"/>
<path d="M460.0,403.5H464.79999999999995M462.4,401.1V405.9" stroke="#111" stroke-width="0.8" fill="none"/>
<path d="M460.0,444.4H464.79999999999995M462.4,442.0V446.79999999999995" stroke="#111" stroke-width="0.8" fill="none"/>
<line x1="462.4" y1="427.7" x2="462.4" y2="470.8" stroke="#33d" stroke-width="0.8" stroke-dasharray="0.9,1.5"/>
<path d="M460.2,427.7H464.59999999999997M462.4,425.5V429.9" stroke="#33d" stroke-width="0.85" fill="none"/>
<path d="M460.2,470.8H464.59999999999997M462.4,468.6V473.0" stroke="#33d" stroke-width="0.85" fill="none"/>
<circle cx="312.6" cy="478.6" r="3.4" fill="#ee0000"/>
<circle cx="312.6" cy="488.8" r="3.4" fill="#0000ee"/>
<circle cx="312.6" cy="497.1" r="3.4" fill="#000"/>
<circle cx="387.5" cy="439.4" r="3.4" fill="#ee0000"/>
<circle cx="387.5" cy="466.1" r="3.4" fill="#0000ee"/>
<circle cx="387.5" cy="479.7" r="3.4" fill="#000"/>
<circle cx="462.4" cy="370.6" r="3.4" fill="#ee0000"/>
<circle cx="462.4" cy="422.7" r="3.4" fill="#000"/>
<circle cx="462.4" cy="449" r="3.4" fill="#0000ee"/>
<circle cx="312.8" cy="540.1" r="3.4" fill="#000"/>
<circle cx="387.4" cy="540.1" r="3.4" fill="#ee0000"/>
<circle cx="462.3" cy="540.1" r="3.4" fill="#0000ee"/>
<text x="0" y="0" font-size="8.0" text-anchor="middle" textLength="28.6" lengthAdjust="spacingAndGlyphs" fill="#000" stroke="#000" stroke-width="0.12" transform="translate(305.48,489.4) rotate(-90)">A04-QTL</text>
<text x="0" y="0" font-size="8.0" text-anchor="middle" textLength="28.6" lengthAdjust="spacingAndGlyphs" fill="#000" stroke="#000" stroke-width="0.12" transform="translate(380.98,465.3) rotate(-90)">A04-QTL</text>
<text x="0" y="0" font-size="8.0" text-anchor="middle" textLength="28.6" lengthAdjust="spacingAndGlyphs" fill="#000" stroke="#000" stroke-width="0.12" transform="translate(455.58,413.8) rotate(-90)">A04-QTL</text>
<text x="374.9" y="554.9" font-size="7.6" textLength="27.9" lengthAdjust="spacingAndGlyphs" fill="#000" stroke="#000" stroke-width="0.12">A02-QTL</text>
<text x="459.8" y="342.6" font-size="6.4" textLength="8.2" lengthAdjust="spacingAndGlyphs" fill="#111" stroke="#111" stroke-width="0.15">ten</text>
<text x="557.6" y="331.2" font-size="12.6" font-weight="bold" fill="#000" stroke="#000" stroke-width="0.35">F</text>
<text x="619.8" y="331.3" font-size="10.6" textLength="75.1" lengthAdjust="spacingAndGlyphs" fill="#000" stroke="#000" stroke-width="0.15">(A09+A04)-QTL</text>
<rect x="556.5" y="335.3" width="201.0" height="196.90000000000003" fill="none" stroke="#666" stroke-width="1"/>
<line x1="552.3" y1="347.5" x2="556.5" y2="347.5" stroke="#444" stroke-width="0.9"/>
<text x="548.7" y="349.8" font-size="6.4" text-anchor="end" fill="#333" stroke="#333" stroke-width="0.25">2.0</text>
<line x1="552.3" y1="374.8" x2="556.5" y2="374.8" stroke="#444" stroke-width="0.9"/>
<text x="548.7" y="377.1" font-size="6.4" text-anchor="end" fill="#333" stroke="#333" stroke-width="0.25">1.8</text>
<line x1="552.3" y1="402.0" x2="556.5" y2="402.0" stroke="#444" stroke-width="0.9"/>
<text x="548.7" y="404.3" font-size="6.4" text-anchor="end" fill="#333" stroke="#333" stroke-width="0.25">1.6</text>
<line x1="552.3" y1="429.2" x2="556.5" y2="429.2" stroke="#444" stroke-width="0.9"/>
<text x="548.7" y="431.5" font-size="6.4" text-anchor="end" fill="#333" stroke="#333" stroke-width="0.25">1.4</text>
<line x1="552.3" y1="456.6" x2="556.5" y2="456.6" stroke="#444" stroke-width="0.9"/>
<text x="548.7" y="458.90000000000003" font-size="6.4" text-anchor="end" fill="#333" stroke="#333" stroke-width="0.25">1.2</text>
<line x1="552.3" y1="484.0" x2="556.5" y2="484.0" stroke="#444" stroke-width="0.9"/>
<text x="548.7" y="486.3" font-size="6.4" text-anchor="end" fill="#333" stroke="#333" stroke-width="0.25">1.0</text>
<line x1="552.3" y1="511.4" x2="556.5" y2="511.4" stroke="#444" stroke-width="0.9"/>
<text x="548.7" y="513.6999999999999" font-size="6.4" text-anchor="end" fill="#333" stroke="#333" stroke-width="0.25">0.8</text>
<line x1="582.4" y1="532.2" x2="582.4" y2="536.5" stroke="#444" stroke-width="0.9"/>
<line x1="657.1" y1="532.2" x2="657.1" y2="536.5" stroke="#444" stroke-width="0.9"/>
<line x1="731.3" y1="532.2" x2="731.3" y2="536.5" stroke="#444" stroke-width="0.9"/>
<line x1="582.3" y1="391.1" x2="582.3" y2="455" stroke="#e33" stroke-width="0.8" stroke-dasharray="0.9,1.5"/>
<path d="M580.0999999999999,391.1H584.5M582.3,388.90000000000003V393.3" stroke="#e33" stroke-width="0.85" fill="none"/>
<path d="M580.0999999999999,455H584.5M582.3,452.8V457.2" stroke="#e33" stroke-width="0.85" fill="none"/>
<line x1="582.3" y1="457.2" x2="582.3" y2="520.6" stroke="#33d" stroke-width="0.8" stroke-dasharray="0.9,1.5"/>
<path d="M580.0999999999999,457.2H584.5M582.3,455.0V459.4" stroke="#33d" stroke-width="0.85" fill="none"/>
<path d="M580.0999999999999,520.6H584.5M582.3,518.4V522.8000000000001" stroke="#33d" stroke-width="0.85" fill="none"/>
<line x1="582.3" y1="488" x2="582.3" y2="524.6" stroke="#111" stroke-width="0.8" stroke-dasharray="0.9,1.5"/>
<path d="M579.9,488H584.6999999999999M582.3,485.6V490.4" stroke="#111" stroke-width="0.8" fill="none"/>
<path d="M579.9,524.6H584.6999999999999M582.3,522.2V527.0" stroke="#111" stroke-width="0.8" fill="none"/>
<line x1="657.1" y1="404.9" x2="657.1" y2="443" stroke="#e33" stroke-width="0.8" stroke-dasharray="0.9,1.5"/>
<path d="M654.9,404.9H659.3000000000001M657.1,402.7V407.09999999999997" stroke="#e33" stroke-width="0.85" fill="none"/>
<path d="M654.9,443H659.3000000000001M657.1,440.8V445.2" stroke="#e33" stroke-width="0.85" fill="none"/>
<line x1="657.1" y1="446.7" x2="657.1" y2="491.3" stroke="#33d" stroke-width="0.8" stroke-dasharray="0.9,1.5"/>
<path d="M654.9,446.7H659.3000000000001M657.1,444.5V448.9" stroke="#33d" stroke-width="0.85" fill="none"/>
<path d="M654.9,491.3H659.3000000000001M657.1,489.1V493.5" stroke="#33d" stroke-width="0.85" fill="none"/>
<line x1="657.1" y1="448" x2="657.1" y2="482" stroke="#111" stroke-width="0.8" stroke-dasharray="0.9,1.5"/>
<path d="M654.7,448H659.5M657.1,445.6V450.4" stroke="#111" stroke-width="0.8" fill="none"/>
<path d="M654.7,482H659.5M657.1,479.6V484.4" stroke="#111" stroke-width="0.8" fill="none"/>
<line x1="731.3" y1="378.5" x2="731.3" y2="398.3" stroke="#e33" stroke-width="0.8" stroke-dasharray="0.9,1.5"/>
<path d="M729.0999999999999,398.3H733.5M731.3,396.1V400.5" stroke="#e33" stroke-width="0.85" fill="none"/>
<line x1="731.3" y1="426.7" x2="731.3" y2="494.4" stroke="#33d" stroke-width="0.8" stroke-dasharray="0.9,1.5"/>
<path d="M729.0999999999999,426.7H733.5M731.3,424.5V428.9" stroke="#33d" stroke-width="0.85" fill="none"/>
<path d="M729.0999999999999,494.4H733.5M731.3,492.2V496.59999999999997" stroke="#33d" stroke-width="0.85" fill="none"/>
<line x1="731.3" y1="396.5" x2="731.3" y2="482.6" stroke="#111" stroke-width="0.8" stroke-dasharray="0.9,1.5"/>
<path d="M728.9,396.5H733.6999999999999M731.3,394.1V398.9" stroke="#111" stroke-width="0.8" fill="none"/>
<path d="M728.9,482.6H733.6999999999999M731.3,480.20000000000005V485.0" stroke="#111" stroke-width="0.8" fill="none"/>
<circle cx="582.3" cy="422.6" r="3.4" fill="#ee0000"/>
<circle cx="582.3" cy="487.5" r="3.4" fill="#0000ee"/>
<circle cx="582.3" cy="493.8" r="3.4" fill="#000"/>
<circle cx="657.1" cy="423.8" r="3.4" fill="#ee0000"/>
<circle cx="657.1" cy="452.5" r="3.4" fill="#000"/>
<circle cx="657.1" cy="469.6" r="3.4" fill="#0000ee"/>
<circle cx="731.3" cy="378.3" r="3.4" fill="#ee0000"/>
<circle cx="731.3" cy="438.3" r="3.4" fill="#000"/>
<circle cx="731.3" cy="459.0" r="3.4" fill="#0000ee"/>
<circle cx="582.6" cy="540.1" r="3.4" fill="#000"/>
<circle cx="657.1" cy="540.1" r="3.4" fill="#ee0000"/>
<circle cx="731.3" cy="540.1" r="3.4" fill="#0000ee"/>
<text x="0" y="0" font-size="8.0" text-anchor="middle" textLength="28.6" lengthAdjust="spacingAndGlyphs" fill="#000" stroke="#000" stroke-width="0.12" transform="translate(576.88,457.9) rotate(-90)">A04-QTL</text>
<text x="0" y="0" font-size="8.0" text-anchor="middle" textLength="28.6" lengthAdjust="spacingAndGlyphs" fill="#000" stroke="#000" stroke-width="0.12" transform="translate(650.48,451.6) rotate(-90)">A04-QTL</text>
<text x="0" y="0" font-size="8.0" text-anchor="middle" textLength="28.6" lengthAdjust="spacingAndGlyphs" fill="#000" stroke="#000" stroke-width="0.12" transform="translate(726.48,437.4) rotate(-90)">A04-QTL</text>
<text x="644.1" y="554.9" font-size="7.6" textLength="28.2" lengthAdjust="spacingAndGlyphs" fill="#000" stroke="#000" stroke-width="0.12">A09-QTL</text>
<path fill="#8a8a8a" d="M156,575h1v1h-1zM156,591h1v1h-1zM158,575h1v1h-1zM158,591h1v1h-1zM160,575h1v1h-1zM160,591h1v1h-1zM162,575h1v1h-1zM162,591h1v1h-1zM164,575h1v1h-1zM164,591h1v1h-1zM166,575h1v1h-1zM166,591h1v1h-1zM168,575h1v1h-1zM168,591h1v1h-1zM170,575h1v1h-1zM170,591h1v1h-1zM172,575h1v1h-1zM172,591h1v1h-1zM174,575h1v1h-1zM174,591h1v1h-1zM176,575h1v1h-1zM176,591h1v1h-1zM178,575h1v1h-1zM178,591h1v1h-1zM180,575h1v1h-1zM180,591h1v1h-1zM182,575h1v1h-1zM182,591h1v1h-1zM184,575h1v1h-1zM184,591h1v1h-1zM186,575h1v1h-1zM186,591h1v1h-1zM188,575h1v1h-1zM188,591h1v1h-1zM190,575h1v1h-1zM190,591h1v1h-1zM192,575h1v1h-1zM192,591h1v1h-1zM194,575h1v1h-1zM194,591h1v1h-1zM196,575h1v1h-1zM196,591h1v1h-1zM198,575h1v1h-1zM198,591h1v1h-1zM200,575h1v1h-1zM200,591h1v1h-1zM202,575h1v1h-1zM202,591h1v1h-1zM204,575h1v1h-1zM204,591h1v1h-1zM206,575h1v1h-1zM206,591h1v1h-1zM208,575h1v1h-1zM208,591h1v1h-1zM210,575h1v1h-1zM210,591h1v1h-1zM212,575h1v1h-1zM212,591h1v1h-1zM214,575h1v1h-1zM214,591h1v1h-1zM216,575h1v1h-1zM216,591h1v1h-1zM218,575h1v1h-1zM218,591h1v1h-1zM220,575h1v1h-1zM220,591h1v1h-1zM222,575h1v1h-1zM222,591h1v1h-1zM224,575h1v1h-1zM224,591h1v1h-1zM226,575h1v1h-1zM226,591h1v1h-1zM228,575h1v1h-1zM228,591h1v1h-1zM230,575h1v1h-1zM230,591h1v1h-1zM232,575h1v1h-1zM232,591h1v1h-1zM234,575h1v1h-1zM234,591h1v1h-1zM236,575h1v1h-1zM236,591h1v1h-1zM238,575h1v1h-1zM238,591h1v1h-1zM240,575h1v1h-1zM240,591h1v1h-1zM242,575h1v1h-1zM242,591h1v1h-1zM244,575h1v1h-1zM244,591h1v1h-1zM246,575h1v1h-1zM246,591h1v1h-1zM248,575h1v1h-1zM248,591h1v1h-1zM250,575h1v1h-1zM250,591h1v1h-1zM252,575h1v1h-1zM252,591h1v1h-1zM254,575h1v1h-1zM254,591h1v1h-1zM256,575h1v1h-1zM256,591h1v1h-1zM258,575h1v1h-1zM258,591h1v1h-1zM260,575h1v1h-1zM260,591h1v1h-1zM262,575h1v1h-1zM262,591h1v1h-1zM264,575h1v1h-1zM264,591h1v1h-1zM266,575h1v1h-1zM266,591h1v1h-1zM268,575h1v1h-1zM268,591h1v1h-1zM270,575h1v1h-1zM270,591h1v1h-1zM272,575h1v1h-1zM272,591h1v1h-1zM274,575h1v1h-1zM274,591h1v1h-1zM276,575h1v1h-1zM276,591h1v1h-1zM278,575h1v1h-1zM278,591h1v1h-1zM280,575h1v1h-1zM280,591h1v1h-1zM282,575h1v1h-1zM282,591h1v1h-1zM284,575h1v1h-1zM284,591h1v1h-1zM286,575h1v1h-1zM286,591h1v1h-1zM288,575h1v1h-1zM288,591h1v1h-1zM290,575h1v1h-1zM290,591h1v1h-1zM292,575h1v1h-1zM292,591h1v1h-1zM294,575h1v1h-1zM294,591h1v1h-1zM296,575h1v1h-1zM296,591h1v1h-1zM298,575h1v1h-1zM298,591h1v1h-1zM300,575h1v1h-1zM300,591h1v1h-1zM302,575h1v1h-1zM302,591h1v1h-1zM304,575h1v1h-1zM304,591h1v1h-1zM306,575h1v1h-1zM306,591h1v1h-1zM308,575h1v1h-1zM308,591h1v1h-1zM310,575h1v1h-1zM310,591h1v1h-1zM312,575h1v1h-1zM312,591h1v1h-1zM314,575h1v1h-1zM314,591h1v1h-1zM316,575h1v1h-1zM316,591h1v1h-1zM318,575h1v1h-1zM318,591h1v1h-1zM320,575h1v1h-1zM320,591h1v1h-1zM322,575h1v1h-1zM322,591h1v1h-1zM324,575h1v1h-1zM324,591h1v1h-1zM326,575h1v1h-1zM326,591h1v1h-1zM328,575h1v1h-1zM328,591h1v1h-1zM330,575h1v1h-1zM330,591h1v1h-1zM332,575h1v1h-1zM332,591h1v1h-1zM334,575h1v1h-1zM334,591h1v1h-1zM336,575h1v1h-1zM336,591h1v1h-1zM338,575h1v1h-1zM338,591h1v1h-1zM340,575h1v1h-1zM340,591h1v1h-1zM342,575h1v1h-1zM342,591h1v1h-1zM344,575h1v1h-1zM344,591h1v1h-1zM346,575h1v1h-1zM346,591h1v1h-1zM348,575h1v1h-1zM348,591h1v1h-1zM350,575h1v1h-1zM350,591h1v1h-1zM352,575h1v1h-1zM352,591h1v1h-1zM354,575h1v1h-1zM354,591h1v1h-1zM356,575h1v1h-1zM356,591h1v1h-1zM358,575h1v1h-1zM358,591h1v1h-1zM360,575h1v1h-1zM360,591h1v1h-1zM362,575h1v1h-1zM362,591h1v1h-1zM364,575h1v1h-1zM364,591h1v1h-1zM366,575h1v1h-1zM366,591h1v1h-1zM368,575h1v1h-1zM368,591h1v1h-1zM370,575h1v1h-1zM370,591h1v1h-1zM372,575h1v1h-1zM372,591h1v1h-1zM374,575h1v1h-1zM374,591h1v1h-1zM376,575h1v1h-1zM376,591h1v1h-1zM378,575h1v1h-1zM378,591h1v1h-1zM380,575h1v1h-1zM380,591h1v1h-1zM382,575h1v1h-1zM382,591h1v1h-1zM384,575h1v1h-1zM384,591h1v1h-1zM386,575h1v1h-1zM386,591h1v1h-1zM388,575h1v1h-1zM388,591h1v1h-1zM390,575h1v1h-1zM390,591h1v1h-1zM392,575h1v1h-1zM392,591h1v1h-1zM394,575h1v1h-1zM394,591h1v1h-1zM396,575h1v1h-1zM396,591h1v1h-1zM398,575h1v1h-1zM398,591h1v1h-1zM400,575h1v1h-1zM400,591h1v1h-1zM402,575h1v1h-1zM402,591h1v1h-1zM404,575h1v1h-1zM404,591h1v1h-1zM406,575h1v1h-1zM406,591h1v1h-1zM408,575h1v1h-1zM408,591h1v1h-1zM410,575h1v1h-1zM410,591h1v1h-1zM412,575h1v1h-1zM412,591h1v1h-1zM414,575h1v1h-1zM414,591h1v1h-1zM416,575h1v1h-1zM416,591h1v1h-1zM418,575h1v1h-1zM418,591h1v1h-1zM420,575h1v1h-1zM420,591h1v1h-1zM422,575h1v1h-1zM422,591h1v1h-1zM424,575h1v1h-1zM424,591h1v1h-1zM426,575h1v1h-1zM426,591h1v1h-1zM428,575h1v1h-1zM428,591h1v1h-1zM430,575h1v1h-1zM430,591h1v1h-1zM432,575h1v1h-1zM432,591h1v1h-1zM434,575h1v1h-1zM434,591h1v1h-1zM436,575h1v1h-1zM436,591h1v1h-1zM438,575h1v1h-1zM438,591h1v1h-1zM440,575h1v1h-1zM440,591h1v1h-1zM442,575h1v1h-1zM442,591h1v1h-1zM444,575h1v1h-1zM444,591h1v1h-1zM446,575h1v1h-1zM446,591h1v1h-1zM448,575h1v1h-1zM448,591h1v1h-1zM450,575h1v1h-1zM450,591h1v1h-1zM452,575h1v1h-1zM452,591h1v1h-1zM454,575h1v1h-1zM454,591h1v1h-1zM456,575h1v1h-1zM456,591h1v1h-1zM458,575h1v1h-1zM458,591h1v1h-1zM460,575h1v1h-1zM460,591h1v1h-1zM462,575h1v1h-1zM462,591h1v1h-1zM464,575h1v1h-1zM464,591h1v1h-1zM466,575h1v1h-1zM466,591h1v1h-1zM468,575h1v1h-1zM468,591h1v1h-1zM470,575h1v1h-1zM470,591h1v1h-1zM472,575h1v1h-1zM472,591h1v1h-1zM474,575h1v1h-1zM474,591h1v1h-1zM476,575h1v1h-1zM476,591h1v1h-1zM478,575h1v1h-1zM478,591h1v1h-1zM480,575h1v1h-1zM480,591h1v1h-1zM482,575h1v1h-1zM482,591h1v1h-1zM484,575h1v1h-1zM484,591h1v1h-1zM486,575h1v1h-1zM486,591h1v1h-1zM488,575h1v1h-1zM488,591h1v1h-1zM490,575h1v1h-1zM490,591h1v1h-1zM492,575h1v1h-1zM492,591h1v1h-1zM494,575h1v1h-1zM494,591h1v1h-1zM496,575h1v1h-1zM496,591h1v1h-1zM498,575h1v1h-1zM498,591h1v1h-1zM500,575h1v1h-1zM500,591h1v1h-1zM502,575h1v1h-1zM502,591h1v1h-1zM504,575h1v1h-1zM504,591h1v1h-1zM506,575h1v1h-1zM506,591h1v1h-1zM508,575h1v1h-1zM508,591h1v1h-1zM510,575h1v1h-1zM510,591h1v1h-1zM512,575h1v1h-1zM512,591h1v1h-1zM514,575h1v1h-1zM514,591h1v1h-1zM516,575h1v1h-1zM516,591h1v1h-1zM518,575h1v1h-1zM518,591h1v1h-1zM520,575h1v1h-1zM520,591h1v1h-1zM522,575h1v1h-1zM522,591h1v1h-1zM524,575h1v1h-1zM524,591h1v1h-1zM526,575h1v1h-1zM526,591h1v1h-1zM528,575h1v1h-1zM528,591h1v1h-1zM530,575h1v1h-1zM530,591h1v1h-1zM532,575h1v1h-1zM532,591h1v1h-1zM534,575h1v1h-1zM534,591h1v1h-1zM536,575h1v1h-1zM536,591h1v1h-1zM538,575h1v1h-1zM538,591h1v1h-1zM540,575h1v1h-1zM540,591h1v1h-1zM542,575h1v1h-1zM542,591h1v1h-1zM544,575h1v1h-1zM544,591h1v1h-1zM546,575h1v1h-1zM546,591h1v1h-1zM548,575h1v1h-1zM548,591h1v1h-1zM550,575h1v1h-1zM550,591h1v1h-1zM552,575h1v1h-1zM552,591h1v1h-1zM554,575h1v1h-1zM554,591h1v1h-1zM556,575h1v1h-1zM556,591h1v1h-1zM558,575h1v1h-1zM558,591h1v1h-1zM560,575h1v1h-1zM560,591h1v1h-1zM562,575h1v1h-1zM562,591h1v1h-1zM564,575h1v1h-1zM564,591h1v1h-1zM566,575h1v1h-1zM566,591h1v1h-1zM568,575h1v1h-1zM568,591h1v1h-1zM570,575h1v1h-1zM570,591h1v1h-1zM572,575h1v1h-1zM572,591h1v1h-1zM574,575h1v1h-1zM574,591h1v1h-1zM576,575h1v1h-1zM576,591h1v1h-1zM578,575h1v1h-1zM578,591h1v1h-1zM580,575h1v1h-1zM580,591h1v1h-1zM582,575h1v1h-1zM582,591h1v1h-1zM584,575h1v1h-1zM584,591h1v1h-1zM586,575h1v1h-1zM586,591h1v1h-1zM588,575h1v1h-1zM588,591h1v1h-1zM590,575h1v1h-1zM590,591h1v1h-1zM592,575h1v1h-1zM592,591h1v1h-1zM594,575h1v1h-1zM594,591h1v1h-1zM596,575h1v1h-1zM596,591h1v1h-1zM598,575h1v1h-1zM598,591h1v1h-1zM600,575h1v1h-1zM600,591h1v1h-1zM602,575h1v1h-1zM602,591h1v1h-1zM604,575h1v1h-1zM604,591h1v1h-1zM606,575h1v1h-1zM606,591h1v1h-1zM608,575h1v1h-1zM608,591h1v1h-1zM156,577h1v1h-1zM608,577h1v1h-1zM156,579h1v1h-1zM608,579h1v1h-1zM156,581h1v1h-1zM608,581h1v1h-1zM156,583h1v1h-1zM608,583h1v1h-1zM156,585h1v1h-1zM608,585h1v1h-1zM156,587h1v1h-1zM608,587h1v1h-1zM156,589h1v1h-1zM608,589h1v1h-1z"/>
<circle cx="163.7" cy="583.2" r="3.8" fill="#000"/>
<text x="171.1" y="586.9" font-size="9.1" fill="#000" stroke="#000" stroke-width="0.12" textLength="157.5" lengthAdjust="spacingAndGlyphs">Homozygous for <tspan font-style="italic">A. stenosperma</tspan> allele</text>
<circle cx="357.9" cy="583.3" r="3.8" fill="#ee0000"/>
<text x="364.8" y="586.9" font-size="9.1" fill="#000" stroke="#000" stroke-width="0.12" textLength="55.8" lengthAdjust="spacingAndGlyphs">Heterozygous</text>
<circle cx="453" cy="583.1" r="3.9" fill="#0000ee"/>
<text x="459.6" y="586.9" font-size="9.1" fill="#000" stroke="#000" stroke-width="0.12" textLength="145.1" lengthAdjust="spacingAndGlyphs">Homozygous for <tspan font-style="italic">A. hypogaea</tspan> allele</text>
</g>
</svg>
</body></html>
